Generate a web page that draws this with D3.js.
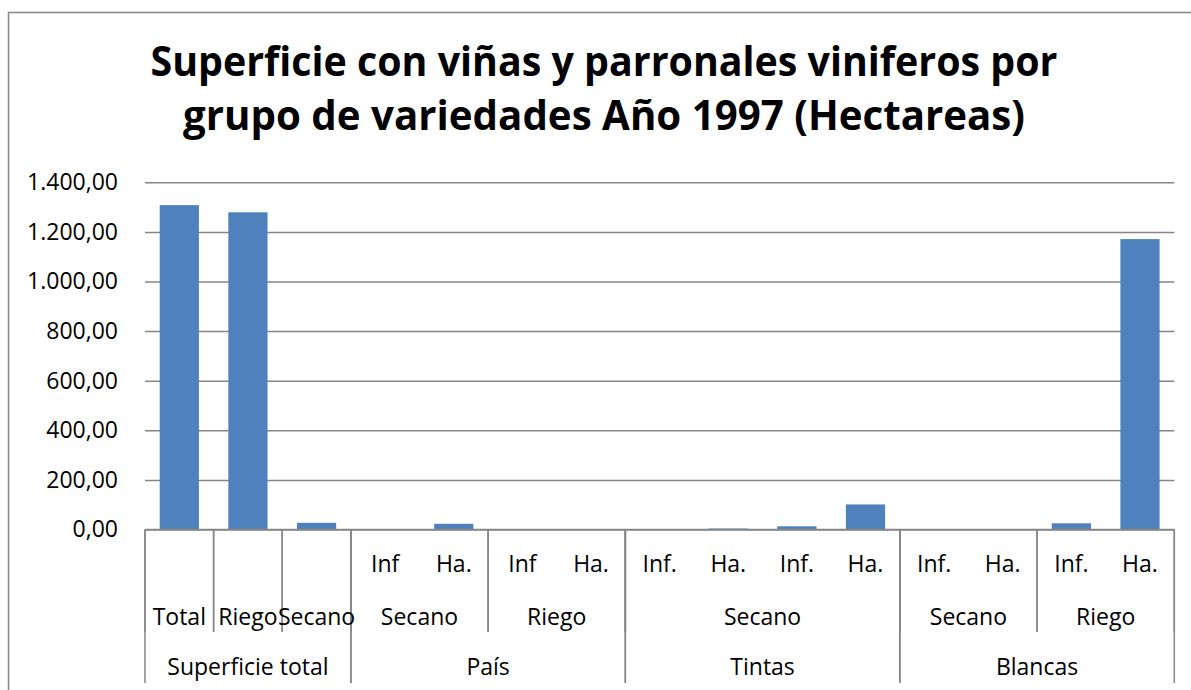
<!DOCTYPE html>
<html>
<head>
<meta charset="utf-8">
<script src="https://cdn.jsdelivr.net/npm/d3@7"></script>
<style>
	body { margin: 0; background: #fff; }
	svg { display: block; }
	text { font-family: "Open Sans", "Noto Sans", sans-serif; fill: #000; }
</style>
</head>
<body>
<svg id="grafico" width="1191" height="690"></svg>
<script>

var tituloLinhas = ["Superficie con viñas y parronales viniferos por", "grupo de variedades Año 1997 (Hectareas)"];

// nivel 3 (folha), nivel 2 e nivel 1 das categorias
var categorias = ["", "", "", "Inf", "Ha.", "Inf", "Ha.", "Inf.", "Ha.", "Inf.", "Ha.", "Inf.", "Ha.", "Inf.", "Ha."];
var nivel2 = ["Total", "Riego", "Secano", "Secano", "Secano", "Riego", "Riego", "Secano", "Secano", "Secano", "Secano", "Secano", "Secano", "Riego", "Riego"];
var nivel1 = ["Superficie total", "Superficie total", "Superficie total", "País", "País", "País", "País", "Tintas", "Tintas", "Tintas", "Tintas", "Blancas", "Blancas", "Blancas", "Blancas"];

var valores = [1308, 1279, 27, 0, 23, 0, 2, 0, 4, 13, 101, 0, 0, 25, 1171];

var ticksY = [0, 200, 400, 600, 800, 1000, 1200, 1400];

var corBarra = "#4F81BD";
var corLinha = "#868686";

var svg = d3.select("#grafico");

var esq = 145, dir = 1174.3, topo = 182.3, base = 529.5;

var x = d3.scaleBand()
	.domain(d3.range(valores.length))
	.range([esq, dir])
	.paddingInner(0.4286)
	.paddingOuter(0.2143);

var y = d3.scaleLinear()
	.domain([0, 1400])
	.range([base, topo]);

var fmt = d3.formatLocale({decimal: ",", thousands: ".", grouping: [3], currency: ["", ""]}).format(",.2f");

// borda do grafico
svg.append("path")
	.attr("d", "M8.5,690 L8.5,12.5 L1191,12.5")
	.attr("fill", "none")
	.attr("stroke", corLinha)
	.attr("stroke-width", 1.5);

// titulo
var tit = svg.append("g");
tituloLinhas.forEach(function(l, i){
	var t = tit.append("text")
		.attr("x", 604)
		.attr("y", 76 + i*54)
		.attr("text-anchor", "middle")
		.attr("font-weight", "bold")
		.attr("font-size", 41)
		.text(l);
	// comprime para a largura da referencia
	var alvo = i == 0 ? 907 : 842;
	t.attr("textLength", alvo).attr("lengthAdjust", "spacingAndGlyphs");
});

// grade
var eixoY = d3.axisLeft(y)
	.tickValues(ticksY)
	.tickFormat(fmt)
	.tickSize(-(dir - esq))
	.tickPadding(27);

var gy = svg.append("g")
	.attr("transform", "translate(" + esq + ",0)")
	.call(eixoY);
gy.select(".domain").remove();
gy.selectAll(".tick line")
	.attr("stroke", corLinha)
	.attr("stroke-width", 1.5);
gy.selectAll(".tick text")
	.attr("font-size", 23)
	.attr("font-family", "'Open Sans', sans-serif")
	.attr("fill", "#000");

// barras
svg.append("g").selectAll("rect")
	.data(valores)
	.join("rect")
	.attr("x", function(d, i){ return x(i); })
	.attr("y", function(d){ return y(d); })
	.attr("width", x.bandwidth())
	.attr("height", function(d){ return y(0) - y(d); })
	.attr("fill", corBarra);

// eixo das categorias
svg.append("line")
	.attr("x1", esq).attr("x2", dir)
	.attr("y1", base).attr("y2", base)
	.attr("stroke", corLinha)
	.attr("stroke-width", 1.5);

function agrupa(chave){
	var grupos = [];
	for(var i = 0; i < valores.length; i++){
		var k = chave(i);
		if(grupos.length > 0 && grupos[grupos.length-1].k == k)
			grupos[grupos.length-1].fim = i;
		else
			grupos.push({k: k, ini: i, fim: i});
	}
	return grupos;
}

var passo = x.step();
var inicio = function(i){ return esq + i*passo; };

var g1 = agrupa(function(i){ return nivel1[i]; });
var g2 = agrupa(function(i){ return nivel1[i] + "|" + nivel2[i]; });

var gc = svg.append("g");

// linhas divisorias
g2.forEach(function(g){
	[g.ini, g.fim + 1].forEach(function(b){
		gc.append("line")
			.attr("x1", inicio(b)).attr("x2", inicio(b))
			.attr("y1", base).attr("y2", base + 102.5)
			.attr("stroke", corLinha)
			.attr("stroke-width", 1.5);
	});
});
g1.forEach(function(g){
	[g.ini, g.fim + 1].forEach(function(b){
		gc.append("line")
			.attr("x1", inicio(b)).attr("x2", inicio(b))
			.attr("y1", base).attr("y2", base + 153.5)
			.attr("stroke", corLinha)
			.attr("stroke-width", 1.5);
	});
});

// rotulos
categorias.forEach(function(c, i){
	if(c == "") return;
	gc.append("text")
		.attr("x", x(i) + x.bandwidth()/2)
		.attr("y", base + 42)
		.attr("text-anchor", "middle")
		.attr("font-size", 23)
		.text(c);
});
g2.forEach(function(g){
	gc.append("text")
		.attr("x", (inicio(g.ini) + inicio(g.fim + 1))/2)
		.attr("y", base + 95.5)
		.attr("text-anchor", "middle")
		.attr("font-size", 23)
		.text(nivel2[g.ini]);
});
g1.forEach(function(g){
	gc.append("text")
		.attr("x", (inicio(g.ini) + inicio(g.fim + 1))/2)
		.attr("y", base + 145.5)
		.attr("text-anchor", "middle")
		.attr("font-size", 23)
		.text(nivel1[g.ini]);
});

</script>
</body>
</html>
